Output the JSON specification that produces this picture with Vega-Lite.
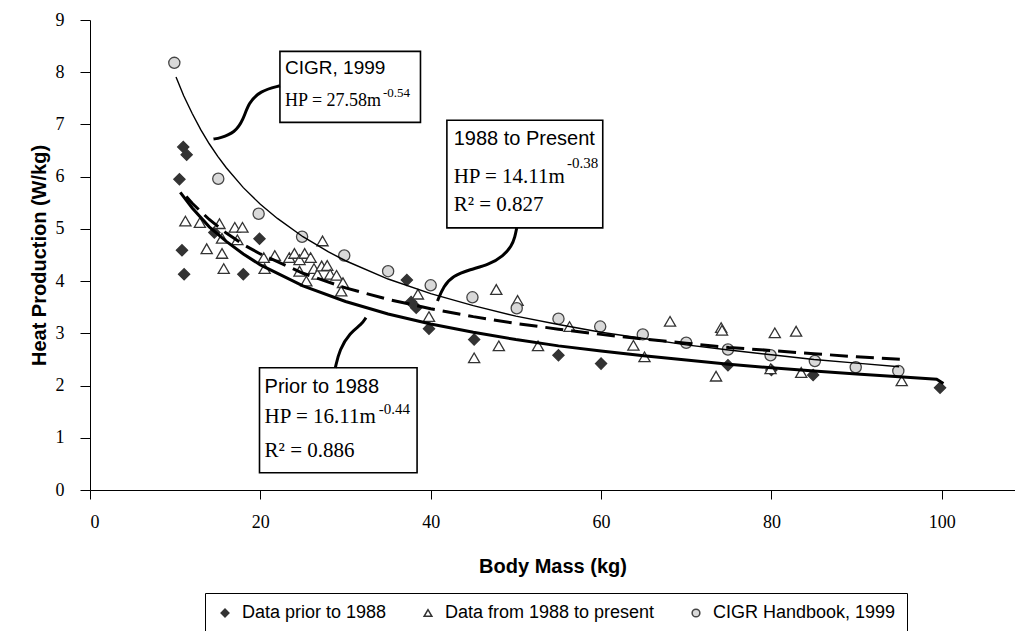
{
  "$schema": "https://vega.github.io/schema/vega-lite/v6.json",
  "width": 925,
  "height": 470,
  "autosize": {"type": "none"},
  "padding": {"left": 90, "top": 20, "right": 0, "bottom": 141},
  "background": "white",
  "config": {"view": {"stroke": null}, "font": "Liberation Sans"},
  "datasets": {
    "pts": [
      {"s": "Data prior to 1988", "x": 10.5, "y": 5.95},
      {"s": "Data prior to 1988", "x": 10.95, "y": 6.57},
      {"s": "Data prior to 1988", "x": 11.35, "y": 6.42},
      {"s": "Data prior to 1988", "x": 10.8, "y": 4.59},
      {"s": "Data prior to 1988", "x": 11.05, "y": 4.13},
      {"s": "Data prior to 1988", "x": 14.6, "y": 4.93},
      {"s": "Data prior to 1988", "x": 18.0, "y": 4.13},
      {"s": "Data prior to 1988", "x": 19.9, "y": 4.81},
      {"s": "Data prior to 1988", "x": 37.2, "y": 4.02},
      {"s": "Data prior to 1988", "x": 37.7, "y": 3.6},
      {"s": "Data prior to 1988", "x": 38.3, "y": 3.49},
      {"s": "Data prior to 1988", "x": 39.8, "y": 3.09},
      {"s": "Data prior to 1988", "x": 45.1, "y": 2.88},
      {"s": "Data prior to 1988", "x": 55.0, "y": 2.58},
      {"s": "Data prior to 1988", "x": 60.0, "y": 2.42},
      {"s": "Data prior to 1988", "x": 74.9, "y": 2.39},
      {"s": "Data prior to 1988", "x": 80.0, "y": 2.3},
      {"s": "Data prior to 1988", "x": 84.9, "y": 2.2},
      {"s": "Data prior to 1988", "x": 99.8, "y": 1.96},
      {"s": "Data from 1988 to present", "x": 11.2, "y": 5.15},
      {"s": "Data from 1988 to present", "x": 12.9, "y": 5.12},
      {"s": "Data from 1988 to present", "x": 13.7, "y": 4.62},
      {"s": "Data from 1988 to present", "x": 15.2, "y": 5.1},
      {"s": "Data from 1988 to present", "x": 15.5, "y": 4.53},
      {"s": "Data from 1988 to present", "x": 15.7, "y": 4.24},
      {"s": "Data from 1988 to present", "x": 15.5, "y": 4.82},
      {"s": "Data from 1988 to present", "x": 17.0, "y": 5.03},
      {"s": "Data from 1988 to present", "x": 17.9, "y": 5.03},
      {"s": "Data from 1988 to present", "x": 17.3, "y": 4.79},
      {"s": "Data from 1988 to present", "x": 20.4, "y": 4.45},
      {"s": "Data from 1988 to present", "x": 20.5, "y": 4.24},
      {"s": "Data from 1988 to present", "x": 21.7, "y": 4.49},
      {"s": "Data from 1988 to present", "x": 23.4, "y": 4.45},
      {"s": "Data from 1988 to present", "x": 24.0, "y": 4.53},
      {"s": "Data from 1988 to present", "x": 24.6, "y": 4.41},
      {"s": "Data from 1988 to present", "x": 25.2, "y": 4.53},
      {"s": "Data from 1988 to present", "x": 25.9, "y": 4.45},
      {"s": "Data from 1988 to present", "x": 27.3, "y": 4.77},
      {"s": "Data from 1988 to present", "x": 24.6, "y": 4.19},
      {"s": "Data from 1988 to present", "x": 25.4, "y": 4.0},
      {"s": "Data from 1988 to present", "x": 26.3, "y": 4.24},
      {"s": "Data from 1988 to present", "x": 26.7, "y": 4.13},
      {"s": "Data from 1988 to present", "x": 27.2, "y": 4.29},
      {"s": "Data from 1988 to present", "x": 27.85, "y": 4.3},
      {"s": "Data from 1988 to present", "x": 28.2, "y": 4.13},
      {"s": "Data from 1988 to present", "x": 28.95, "y": 4.11},
      {"s": "Data from 1988 to present", "x": 29.7, "y": 3.97},
      {"s": "Data from 1988 to present", "x": 29.5, "y": 3.81},
      {"s": "Data from 1988 to present", "x": 38.5, "y": 3.75},
      {"s": "Data from 1988 to present", "x": 39.8, "y": 3.32},
      {"s": "Data from 1988 to present", "x": 45.1, "y": 2.53},
      {"s": "Data from 1988 to present", "x": 47.7, "y": 3.84},
      {"s": "Data from 1988 to present", "x": 48.0, "y": 2.76},
      {"s": "Data from 1988 to present", "x": 50.2, "y": 3.63},
      {"s": "Data from 1988 to present", "x": 52.6, "y": 2.76},
      {"s": "Data from 1988 to present", "x": 56.3, "y": 3.13},
      {"s": "Data from 1988 to present", "x": 63.8, "y": 2.77},
      {"s": "Data from 1988 to present", "x": 65.1, "y": 2.55},
      {"s": "Data from 1988 to present", "x": 68.1, "y": 3.23},
      {"s": "Data from 1988 to present", "x": 73.5, "y": 2.18},
      {"s": "Data from 1988 to present", "x": 74.1, "y": 3.11},
      {"s": "Data from 1988 to present", "x": 74.2, "y": 3.06},
      {"s": "Data from 1988 to present", "x": 79.9, "y": 2.32},
      {"s": "Data from 1988 to present", "x": 80.4, "y": 3.01},
      {"s": "Data from 1988 to present", "x": 82.9, "y": 3.04},
      {"s": "Data from 1988 to present", "x": 83.5, "y": 2.25},
      {"s": "Data from 1988 to present", "x": 95.3, "y": 2.09},
      {"s": "CIGR Handbook, 1999", "x": 9.9, "y": 8.18},
      {"s": "CIGR Handbook, 1999", "x": 15.06, "y": 5.96},
      {"s": "CIGR Handbook, 1999", "x": 19.8, "y": 5.29},
      {"s": "CIGR Handbook, 1999", "x": 24.9, "y": 4.85},
      {"s": "CIGR Handbook, 1999", "x": 29.85, "y": 4.49},
      {"s": "CIGR Handbook, 1999", "x": 35.0, "y": 4.19},
      {"s": "CIGR Handbook, 1999", "x": 40.0, "y": 3.92},
      {"s": "CIGR Handbook, 1999", "x": 44.9, "y": 3.69},
      {"s": "CIGR Handbook, 1999", "x": 50.1, "y": 3.48},
      {"s": "CIGR Handbook, 1999", "x": 55.0, "y": 3.28},
      {"s": "CIGR Handbook, 1999", "x": 59.9, "y": 3.13},
      {"s": "CIGR Handbook, 1999", "x": 64.9, "y": 2.98},
      {"s": "CIGR Handbook, 1999", "x": 70.0, "y": 2.82},
      {"s": "CIGR Handbook, 1999", "x": 74.9, "y": 2.69},
      {"s": "CIGR Handbook, 1999", "x": 79.9, "y": 2.58},
      {"s": "CIGR Handbook, 1999", "x": 85.1, "y": 2.47},
      {"s": "CIGR Handbook, 1999", "x": 89.9, "y": 2.35},
      {"s": "CIGR Handbook, 1999", "x": 94.9, "y": 2.28}
    ],
    "fit": [
      {"c": "cigr", "x": 10.1, "y": 7.91}, {"c": "cigr", "x": 11, "y": 7.55}, {"c": "cigr", "x": 12, "y": 7.21},
      {"c": "cigr", "x": 13, "y": 6.9}, {"c": "cigr", "x": 14, "y": 6.63}, {"c": "cigr", "x": 15, "y": 6.39},
      {"c": "cigr", "x": 16, "y": 6.17}, {"c": "cigr", "x": 18, "y": 5.79}, {"c": "cigr", "x": 20, "y": 5.47},
      {"c": "cigr", "x": 22, "y": 5.2}, {"c": "cigr", "x": 25, "y": 4.85}, {"c": "cigr", "x": 28, "y": 4.56},
      {"c": "cigr", "x": 30, "y": 4.39}, {"c": "cigr", "x": 35, "y": 4.04}, {"c": "cigr", "x": 40, "y": 3.76},
      {"c": "cigr", "x": 45, "y": 3.53}, {"c": "cigr", "x": 50, "y": 3.33}, {"c": "cigr", "x": 55, "y": 3.17},
      {"c": "cigr", "x": 60, "y": 3.02}, {"c": "cigr", "x": 65, "y": 2.9}, {"c": "cigr", "x": 70, "y": 2.78},
      {"c": "cigr", "x": 75, "y": 2.68}, {"c": "cigr", "x": 80, "y": 2.59}, {"c": "cigr", "x": 85, "y": 2.5},
      {"c": "cigr", "x": 90, "y": 2.43}, {"c": "cigr", "x": 95, "y": 2.36},
      {"c": "prior", "x": 10.6, "y": 5.7}, {"c": "prior", "x": 12, "y": 5.4}, {"c": "prior", "x": 14, "y": 5.04},
      {"c": "prior", "x": 16, "y": 4.76}, {"c": "prior", "x": 18, "y": 4.52}, {"c": "prior", "x": 20, "y": 4.31},
      {"c": "prior", "x": 25, "y": 3.91}, {"c": "prior", "x": 30, "y": 3.61}, {"c": "prior", "x": 35, "y": 3.37},
      {"c": "prior", "x": 40, "y": 3.18}, {"c": "prior", "x": 45, "y": 3.02}, {"c": "prior", "x": 50, "y": 2.88},
      {"c": "prior", "x": 55, "y": 2.76}, {"c": "prior", "x": 60, "y": 2.66}, {"c": "prior", "x": 65, "y": 2.57},
      {"c": "prior", "x": 70, "y": 2.49}, {"c": "prior", "x": 75, "y": 2.41}, {"c": "prior", "x": 80, "y": 2.34},
      {"c": "prior", "x": 85, "y": 2.28}, {"c": "prior", "x": 90, "y": 2.22}, {"c": "prior", "x": 95, "y": 2.17},
      {"c": "prior", "x": 99.4, "y": 2.12}, {"c": "prior", "x": 100.2, "y": 2.04},
      {"c": "recent", "x": 11.3, "y": 5.62}, {"c": "recent", "x": 12, "y": 5.49}, {"c": "recent", "x": 14, "y": 5.18},
      {"c": "recent", "x": 16, "y": 4.92}, {"c": "recent", "x": 18, "y": 4.7}, {"c": "recent", "x": 20, "y": 4.52},
      {"c": "recent", "x": 25, "y": 4.15}, {"c": "recent", "x": 30, "y": 3.87}, {"c": "recent", "x": 35, "y": 3.65},
      {"c": "recent", "x": 40, "y": 3.47}, {"c": "recent", "x": 45, "y": 3.32}, {"c": "recent", "x": 50, "y": 3.19},
      {"c": "recent", "x": 55, "y": 3.08}, {"c": "recent", "x": 60, "y": 2.98}, {"c": "recent", "x": 65, "y": 2.89},
      {"c": "recent", "x": 70, "y": 2.81}, {"c": "recent", "x": 75, "y": 2.73}, {"c": "recent", "x": 80, "y": 2.67},
      {"c": "recent", "x": 85, "y": 2.61}, {"c": "recent", "x": 90, "y": 2.55}, {"c": "recent", "x": 95.3, "y": 2.5}
    ],
    "boxes": [
      {"b": "cigr", "x": 22.3, "x2": 38.8, "y": 8.4, "y2": 7.04},
      {"b": "recent", "x": 41.9, "x2": 60.2, "y": 7.08, "y2": 5.02},
      {"b": "prior", "x": 19.9, "x2": 38.4, "y": 2.34, "y2": 0.33}
    ],
    "ann": [
      {"k": "sansS", "x": 22.9, "y": 7.96, "t": "CIGR, 1999"},
      {"k": "serifS", "x": 22.9, "y": 7.36, "t": "HP = 27.58m"},
      {"k": "supS", "x": 34.4, "y": 7.52, "t": "-0.54"},
      {"k": "sans", "x": 42.7, "y": 6.6, "t": "1988 to Present"},
      {"k": "serif", "x": 42.7, "y": 5.88, "t": "HP = 14.11m"},
      {"k": "sup", "x": 56.0, "y": 6.17, "t": "-0.38"},
      {"k": "serif", "x": 42.7, "y": 5.34, "t": "R² = 0.827"},
      {"k": "sans", "x": 20.5, "y": 1.86, "t": "Prior to 1988"},
      {"k": "serif", "x": 20.5, "y": 1.29, "t": "HP = 16.11m"},
      {"k": "sup", "x": 33.9, "y": 1.46, "t": "-0.44"},
      {"k": "serif", "x": 20.5, "y": 0.64, "t": "R² = 0.886"}
    ],
    "arrows": [
      {"a": "cigr", "o": 1, "x": 22.3, "y": 7.74}, {"a": "cigr", "o": 2, "x": 19.95, "y": 7.64},
      {"a": "cigr", "o": 3, "x": 18.6, "y": 7.41}, {"a": "cigr", "o": 4, "x": 18.0, "y": 7.09},
      {"a": "cigr", "o": 5, "x": 17.0, "y": 6.84}, {"a": "cigr", "o": 6, "x": 15.26, "y": 6.74},
      {"a": "cigr", "o": 7, "x": 14.5, "y": 6.72},
      {"a": "recent", "o": 1, "x": 50.1, "y": 5.02}, {"a": "recent", "o": 2, "x": 49.9, "y": 4.85},
      {"a": "recent", "o": 3, "x": 49.5, "y": 4.67}, {"a": "recent", "o": 4, "x": 48.5, "y": 4.48},
      {"a": "recent", "o": 5, "x": 46.9, "y": 4.32}, {"a": "recent", "o": 6, "x": 44.6, "y": 4.22},
      {"a": "recent", "o": 7, "x": 42.6, "y": 4.1}, {"a": "recent", "o": 8, "x": 41.5, "y": 3.9},
      {"a": "recent", "o": 9, "x": 40.8, "y": 3.62},
      {"a": "prior", "o": 1, "x": 28.8, "y": 2.34}, {"a": "prior", "o": 2, "x": 29.3, "y": 2.69},
      {"a": "prior", "o": 3, "x": 30.5, "y": 3.01}, {"a": "prior", "o": 4, "x": 31.9, "y": 3.17},
      {"a": "prior", "o": 5, "x": 32.4, "y": 3.3}
    ]
  },
  "layer": [
    {
      "mark": {"type": "rule", "color": "#9a9a9a", "strokeWidth": 1.5},
      "encoding": {"y": {"datum": 9}}
    },
    {
      "data": {"name": "pts"},
      "mark": {"type": "point", "filled": true, "opacity": 1, "size": 125, "strokeWidth": 1.3},
      "encoding": {
        "x": {"field": "x", "type": "quantitative", "title": "Body Mass (kg)",
          "scale": {"domain": [0, 108.6], "nice": false, "zero": false},
          "axis": {"values": [0, 20, 40, 60, 80, 100], "grid": false, "tickSize": 9, "tickColor": "#000", "domainColor": "#000",
            "labelFont": "Liberation Serif", "labelFontSize": 18, "labelColor": "#000", "labelPadding": 14,
            "titleFont": "Liberation Sans", "titleFontSize": 20, "titleFontWeight": "bold", "titleColor": "#000", "titlePadding": 25}},
        "y": {"field": "y", "type": "quantitative", "title": "Heat Production (W/kg)",
          "scale": {"domain": [0, 9], "nice": false},
          "axis": {"values": [0, 1, 2, 3, 4, 5, 6, 7, 8, 9], "grid": false, "tickSize": 10, "tickColor": "#000", "domainColor": "#000",
            "labelFont": "Liberation Serif", "labelFontSize": 18, "labelColor": "#000", "labelPadding": 16,
            "titleFont": "Liberation Sans", "titleFontSize": 20, "titleFontWeight": "bold", "titleColor": "#000", "titlePadding": 6}},
        "shape": {"field": "s", "type": "nominal",
          "scale": {"domain": ["Data prior to 1988", "Data from 1988 to present", "CIGR Handbook, 1999"], "range": ["diamond", "triangle-up", "circle"]},
          "legend": {"orient": "none", "legendX": 115, "legendY": 573, "direction": "horizontal", "title": null,
            "strokeColor": "#000", "fillColor": "white", "padding": 11, "labelFont": "Liberation Sans", "labelFontSize": 18,
            "labelColor": "#000", "labelLimit": 0, "symbolSize": 60, "columnPadding": 32, "labelOffset": 8}},
        "fill": {"field": "s", "type": "nominal",
          "scale": {"domain": ["Data prior to 1988", "Data from 1988 to present", "CIGR Handbook, 1999"], "range": ["#333333", "#ffffff", "#d9d9d9"]}},
        "stroke": {"field": "s", "type": "nominal",
          "scale": {"domain": ["Data prior to 1988", "Data from 1988 to present", "CIGR Handbook, 1999"], "range": ["#333333", "#333333", "#444444"]}}
      }
    },
    {
      "data": {"name": "fit"},
      "transform": [{"filter": "datum.c == 'cigr'"}],
      "mark": {"type": "line", "color": "#000", "strokeWidth": 1.4},
      "encoding": {"x": {"field": "x", "type": "quantitative"}, "y": {"field": "y", "type": "quantitative"}}
    },
    {
      "data": {"name": "fit"},
      "transform": [{"filter": "datum.c == 'prior'"}],
      "mark": {"type": "line", "color": "#000", "strokeWidth": 3},
      "encoding": {"x": {"field": "x", "type": "quantitative"}, "y": {"field": "y", "type": "quantitative"}}
    },
    {
      "data": {"name": "fit"},
      "transform": [{"filter": "datum.c == 'recent'"}],
      "mark": {"type": "line", "color": "#000", "strokeWidth": 3, "strokeDash": [18, 8]},
      "encoding": {"x": {"field": "x", "type": "quantitative"}, "y": {"field": "y", "type": "quantitative"}}
    },
    {
      "data": {"name": "boxes"},
      "mark": {"type": "rect", "fill": "white", "stroke": "#000", "strokeWidth": 1.6},
      "encoding": {"x": {"field": "x", "type": "quantitative"}, "x2": {"field": "x2"}, "y": {"field": "y", "type": "quantitative"}, "y2": {"field": "y2"}}
    },
    {
      "data": {"name": "ann"},
      "transform": [{"filter": "datum.k == 'sans'"}],
      "mark": {"type": "text", "align": "left", "baseline": "alphabetic", "font": "Liberation Sans", "fontSize": 20, "color": "#000"},
      "encoding": {"x": {"field": "x", "type": "quantitative"}, "y": {"field": "y", "type": "quantitative"}, "text": {"field": "t"}}
    },
    {
      "data": {"name": "ann"},
      "transform": [{"filter": "datum.k == 'sansS'"}],
      "mark": {"type": "text", "align": "left", "baseline": "alphabetic", "font": "Liberation Sans", "fontSize": 19, "color": "#000"},
      "encoding": {"x": {"field": "x", "type": "quantitative"}, "y": {"field": "y", "type": "quantitative"}, "text": {"field": "t"}}
    },
    {
      "data": {"name": "ann"},
      "transform": [{"filter": "datum.k == 'serif'"}],
      "mark": {"type": "text", "align": "left", "baseline": "alphabetic", "font": "Liberation Serif", "fontSize": 21, "color": "#000"},
      "encoding": {"x": {"field": "x", "type": "quantitative"}, "y": {"field": "y", "type": "quantitative"}, "text": {"field": "t"}}
    },
    {
      "data": {"name": "ann"},
      "transform": [{"filter": "datum.k == 'serifS'"}],
      "mark": {"type": "text", "align": "left", "baseline": "alphabetic", "font": "Liberation Serif", "fontSize": 18, "color": "#000"},
      "encoding": {"x": {"field": "x", "type": "quantitative"}, "y": {"field": "y", "type": "quantitative"}, "text": {"field": "t"}}
    },
    {
      "data": {"name": "ann"},
      "transform": [{"filter": "datum.k == 'sup'"}],
      "mark": {"type": "text", "align": "left", "baseline": "alphabetic", "font": "Liberation Serif", "fontSize": 15, "color": "#000"},
      "encoding": {"x": {"field": "x", "type": "quantitative"}, "y": {"field": "y", "type": "quantitative"}, "text": {"field": "t"}}
    },
    {
      "data": {"name": "ann"},
      "transform": [{"filter": "datum.k == 'supS'"}],
      "mark": {"type": "text", "align": "left", "baseline": "alphabetic", "font": "Liberation Serif", "fontSize": 13, "color": "#000"},
      "encoding": {"x": {"field": "x", "type": "quantitative"}, "y": {"field": "y", "type": "quantitative"}, "text": {"field": "t"}}
    },
    {
      "data": {"name": "arrows"},
      "mark": {"type": "line", "color": "#000", "strokeWidth": 3, "interpolate": "basis"},
      "encoding": {"x": {"field": "x", "type": "quantitative"}, "y": {"field": "y", "type": "quantitative"}, "detail": {"field": "a"}, "order": {"field": "o"}}
    },
    {
      "mark": {"type": "point", "shape": "triangle-up", "filled": true, "color": "#000", "opacity": 1, "size": 110, "angle": 260},
      "encoding": {"x": {"datum": 14.66}, "y": {"datum": 6.73}}
    },
    {
      "mark": {"type": "point", "shape": "triangle-up", "filled": true, "color": "#000", "opacity": 1, "size": 110, "angle": 205},
      "encoding": {"x": {"datum": 40.74}, "y": {"datum": 3.58}}
    },
    {
      "mark": {"type": "point", "shape": "triangle-up", "filled": true, "color": "#000", "opacity": 1, "size": 110, "angle": 23},
      "encoding": {"x": {"datum": 32.55}, "y": {"datum": 3.34}}
    }
  ]
}
